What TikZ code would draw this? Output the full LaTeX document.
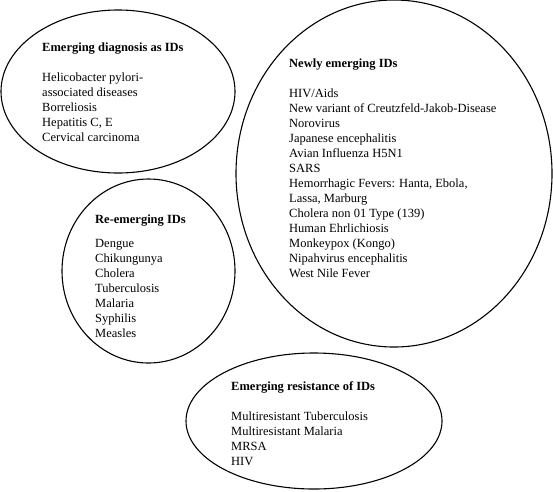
\documentclass[tikz,border=0pt]{standalone}
\usepackage{fontspec}
\setmainfont{Liberation Serif}
\usetikzlibrary{shapes.geometric}
\begin{document}
\begin{tikzpicture}[x=1pt,y=-1pt,
  blob/.style={draw,ellipse,line width=1.1pt,inner sep=0pt},
  txt/.style={anchor=north west,inner sep=0pt,align=left,
    font=\fontsize{12.5}{15}\selectfont}]
\useasboundingbox (0,0) rectangle (553,491);
\node[blob,minimum width=234pt,minimum height=163pt] (e1) at (118,91.5) {};
\node[blob,minimum width=316pt,minimum height=347pt] (e2) at (394,173.5) {};
\node[blob,minimum width=173pt,minimum height=184pt] (e3) at (148.5,271) {};
\node[blob,minimum width=256pt,minimum height=136pt] (e4) at (314,421) {};
\node[txt] (t1) at (42,40.5) {\strut\textbf{Emerging diagnosis as IDs}\\[15pt]
Helicobacter pylori-\\associated diseases\\Borreliosis\\Hepatitis C, E\\Cervical carcinoma};
\node[txt] (t2) at (289,56.5) {\strut\textbf{Newly emerging IDs}\\[15pt]
HIV/Aids\\New variant of Creutzfeld-Jakob-Disease\\Norovirus\\Japanese encephalitis\\Avian Influenza H5N1\\SARS\\Hemorrhagic Fevers: Hanta, Ebola,\\Lassa, Marburg\\Cholera non 01 Type (139)\\Human Ehrlichiosis\\Monkeypox (Kongo)\\Nipahvirus encephalitis\\West Nile Fever};
\node[txt] (t3) at (95,212.5) {\strut\textbf{Re-emerging IDs}\\[9pt]
Dengue\\Chikungunya\\Cholera\\Tuberculosis\\Malaria\\Syphilis\\Measles};
\node[txt] (t4) at (231,379.5) {\strut\textbf{Emerging resistance of IDs}\\[15pt]
Multiresistant Tuberculosis\\Multiresistant Malaria\\MRSA\\HIV};
\end{tikzpicture}
\end{document}
